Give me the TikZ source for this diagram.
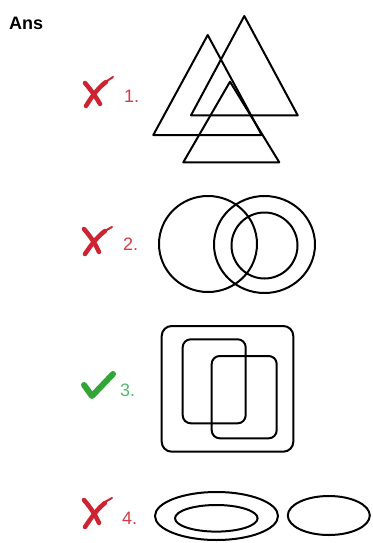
\documentclass[tikz,border=0pt]{standalone}
\usepackage{fontspec}
\setmainfont{Liberation Sans}
\definecolor{xred}{RGB}{205,35,50}
\definecolor{lblred}{RGB}{210,60,70}
\definecolor{okgreen}{RGB}{50,165,55}
\definecolor{lblgreen}{RGB}{90,185,110}
\begin{document}
\begin{tikzpicture}[x=1pt,y=-1pt,
  outl/.style={draw=black,line width=2pt,line join=round},
  lbl/.style={font=\fontsize{18}{20}\selectfont,inner sep=0pt,anchor=west},
  xmark/.style={draw=xred,line width=4.5pt,line cap=round},
  ckmark/.style={draw=okgreen,line width=6pt,line cap=round,line join=round}]
\useasboundingbox (0,0) rectangle (372,543);
\fill[white] (0,0) rectangle (372,543);
\node[font=\bfseries\fontsize{18}{20}\selectfont,inner sep=0pt,anchor=west] (ans) at (9,23) {Ans};
% row 1
\path[xmark] (85,83) .. controls (91,90) and (96,97) .. (100,104);
\path[xmark] (86,106) .. controls (92,96) and (99,87) .. (106,82);
\path[draw=xred,line width=2pt,line cap=round] (104,83) -- (113,77);
\node[lbl,text=lblred] (l1) at (124,96) {1.};
\draw[outl] (207.7,35) -- (261.7,135) -- (153.3,135) -- cycle;
\draw[outl] (244.3,16) -- (297.7,115.3) -- (191,115.3) -- cycle;
\draw[outl] (230,81.7) -- (279.3,162.3) -- (183.3,162.3) -- cycle;
% row 2
\path[xmark] (84,229) .. controls (90,236) and (95,243) .. (99,252);
\path[xmark] (85,254) .. controls (91,245) and (98,236) .. (105,231);
\path[draw=xred,line width=2pt,line cap=round] (103,232) -- (112,227);
\node[lbl,text=lblred] (l2) at (123,244) {2.};
\draw[outl] (208,244) circle[x radius=49,y radius=48];
\draw[outl] (264.5,244.5) circle[x radius=50.5,y radius=48.5];
\draw[outl] (264.5,245.5) circle[radius=33];
% row 3
\path[ckmark] (84,385) -- (92,396) -- (113,374);
\node[lbl,text=lblgreen] (l3) at (120,390) {3.};
\draw[outl,rounded corners=10pt] (161.7,326) rectangle (293.3,451.7);
\draw[outl,rounded corners=8pt] (182.7,339.3) rectangle (245.7,423.3);
\draw[outl,rounded corners=8pt] (211.7,356) rectangle (276.7,438.3);
% row 4
\path[xmark] (84,500) .. controls (90,507) and (95,514) .. (99,523);
\path[xmark] (85,527) .. controls (91,518) and (98,508) .. (105,503);
\path[draw=xred,line width=2pt,line cap=round] (103,503) -- (112,498);
\node[lbl,text=lblred] (l4) at (122,518) {4.};
\draw[outl] (216.5,516) circle[x radius=61.5,y radius=24];
\draw[outl] (216.3,518.3) circle[x radius=41.3,y radius=13.3];
\draw[outl] (328.8,515.5) circle[x radius=41,y radius=19.5];
\end{tikzpicture}
\end{document}
